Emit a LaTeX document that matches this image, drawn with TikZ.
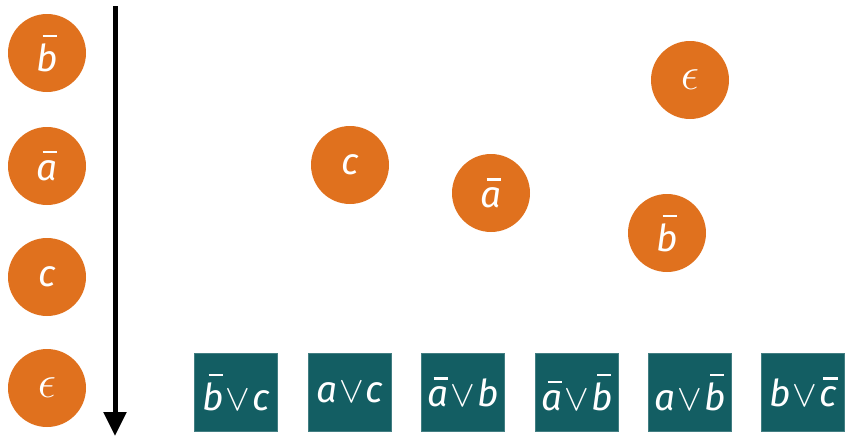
\documentclass[tikz,border=0pt]{standalone}
\usepackage{fix-cm}
\usepackage{fontspec}
\setmainfont{Fira Sans}
\usetikzlibrary{arrows.meta}
\definecolor{orng}{HTML}{E0711E}
\definecolor{teal}{HTML}{135E63}
\newcommand\lt[1]{\textit{#1}}
\newcommand\bl[1]{\setbox0\hbox{\itshape #1}\dimen0=\ht0 \advance\dimen0 by 0.18em
  \hbox{\copy0\hskip-\wd0\makebox[\wd0][c]{\hskip0.14em\raisebox{\dimen0}{\rule{0.38em}{0.055em}}}}}
\newcommand\orr{\hskip0.05em$\vee$\hskip0.05em}
\newcommand\eps{{\fontsize{46}{50}\selectfont$\epsilon$}}
\tikzset{
  lit/.style={circle, fill=orng, draw=none, minimum size=78pt, inner sep=0pt, text=white, font=\fontsize{37}{41}\selectfont},
  clause/.style={rectangle, fill=teal, draw=teal!80!white, line width=0.8pt, minimum width=83pt, minimum height=78pt, inner sep=0pt, text=white, font=\fontsize{37}{41}\selectfont},
}
\begin{document}
\begin{tikzpicture}[x=1pt,y=-1pt]
\useasboundingbox (0,0) rectangle (845,437);
% order
\node[lit] (o1) at (47,53) {\bl{b}};
\node[lit] (o2) at (47,166) {\bl{a}};
\node[lit] (o3) at (47,277) {\lt{c}};
\node[lit] (o4) at (47,388) {\eps};
\coordinate (as) at (115,6);
\coordinate (ae) at (115,436);
\draw[line width=5pt, -{Triangle[width=22pt,length=24pt]}] (as) -- (ae);
% floating literals
\node[lit] (lc) at (350,165) {\lt{c}};
\node[lit] (la) at (491,193) {\bl{a}};
\node[lit] (le) at (690,80) {\eps};
\node[lit] (lb) at (667,233) {\bl{b}};
% clauses
\node[clause] (c1) at (236,392) {\bl{b}\orr\lt{c}};
\node[clause] (c2) at (350,392) {\lt{a}\orr\lt{c}};
\node[clause] (c3) at (463,392) {\bl{a}\orr\lt{b}};
\node[clause] (c4) at (577,392) {\bl{a}\orr\bl{b}};
\node[clause] (c5) at (690,392) {\lt{a}\orr\bl{b}};
\node[clause] (c6) at (803,392) {\lt{b}\orr\bl{c}};
\end{tikzpicture}
\end{document}
